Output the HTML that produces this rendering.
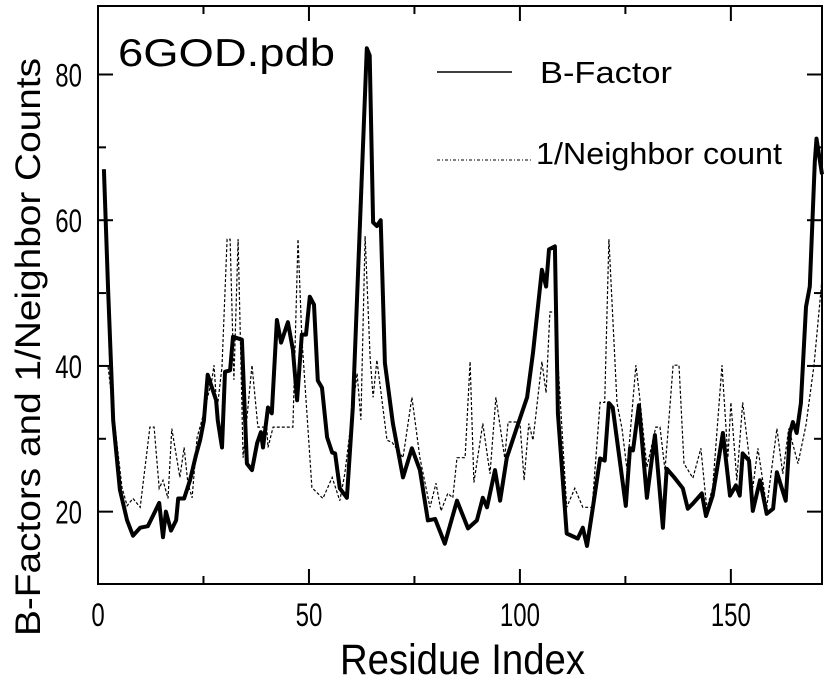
<!DOCTYPE html>
<html><head><meta charset="utf-8"><style>
body{margin:0;background:#fff;}
svg{display:block;font-family:"Liberation Sans",Arial,sans-serif;}
</style></head><body>
<svg id="chart" width="825" height="682" viewBox="0 0 825 682">
<g id="axes"></g>
<g id="series"></g>
<text x="118" y="66" font-size="39" textLength="217" lengthAdjust="spacingAndGlyphs">6GOD.pdb</text>
<line x1="437" y1="72" x2="512" y2="72" stroke="#000" stroke-width="1.5"/>
<text x="540" y="83" font-size="31" textLength="132" lengthAdjust="spacingAndGlyphs">B-Factor</text>
<line x1="437" y1="160" x2="531" y2="160" stroke="#000" stroke-width="1" stroke-dasharray="3,2,1,2"/>
<text x="536" y="164" font-size="31" textLength="246" lengthAdjust="spacingAndGlyphs">1/Neighbor count</text>
<text x="340" y="674" font-size="43" textLength="245" lengthAdjust="spacingAndGlyphs">Residue Index</text>
<text transform="translate(40,636) rotate(-90)" font-size="35" textLength="578" lengthAdjust="spacingAndGlyphs">B-Factors and 1/Neighbor Counts</text>
</svg>
<script>
const bX=[1.4,2.4,3.6,5.2,6.9,8.3,10,11.8,13.5,14.5,15.4,16.1,17.3,18.5,19,20.4,21.8,23.2,24.2,25.1,26,28,28.4,29.4,30.1,31.3,32,34.1,35.3,36.5,37.7,38.6,39.1,40.3,41.2,42.4,43.4,45,46.2,47.2,48.3,49.3,50.2,51.2,52.1,53.1,54.3,55.5,56.2,57.3,59,60.4,63.7,64.4,65.2,66.1,67,68,69.9,72.3,74.4,76.3,78.2,79.9,82.2,85.1,87.7,89.8,91.2,92.2,94.1,95.3,96.9,99.3,101.7,103.1,105.2,106.2,106.9,108.3,109,111.1,113.7,114.9,115.9,117.3,119,120.1,121.1,122,125.1,126.1,126.8,128.2,130.1,132,133.9,134.8,136.7,138.6,139.8,141,143.1,144.1,145.7,148.1,149.8,151.2,152.1,152.8,154.3,155.2,156.9,158.5,160,160.9,163,164,164.7,165.6,166.6,167.8,168.7,169.9,170.3,171.6];
const bY=[67,50.5,32.5,23,18.8,16.7,17.8,18,20,21.2,16.5,20,17.4,18.8,21.8,21.8,24.3,27.7,29.8,32.5,38.8,35.3,32.5,28.8,39.2,39.4,44,43.6,26.6,25.7,29.4,30.9,28.8,34.3,33.5,46.3,43.2,46,42.2,35.3,44.3,44.3,49.5,48.4,38,37,30.2,28.1,28,23.2,21.9,34.3,83.6,82.6,59.7,59.2,60,40.4,32.1,24.7,28.7,25.7,18.8,19,15.6,21.5,17.7,18.8,21.9,20.6,25.7,21.5,27.4,31.6,35.7,41.8,53.2,50.9,56,56.4,33.5,17,16.3,17.8,15.3,20.6,27.3,27,34.9,34.3,20.8,28.7,28.4,34.6,21.9,30.5,17.8,25.9,24.6,23.2,20.4,21.1,22.5,19.4,22.2,30.8,22.2,23.6,22.2,28,27,20.1,24.3,19.7,20.4,25.4,21.5,30.8,32.3,30.8,34.9,48.1,50.9,68,71.2,66.3];
const nX=[2.4,5.7,6.9,8.3,10,12.3,13.3,14.5,15.4,16.6,17.5,19.4,20.4,21.3,22.3,23.5,24.6,27,27.5,28.2,29.4,30.6,31.3,32.2,33.2,34.4,36.5,37.9,40,40.3,41.5,46.2,47.4,48.3,50.7,53.3,55.5,57.3,58.5,61.4,62.3,63.3,64.5,65.2,66.1,68.5,69.7,72.3,74.4,76.3,78.7,80.1,81.3,82.9,84.1,85.1,87,88.2,89.1,91.2,92.9,94.3,96.4,97.2,100,101,102.1,103.1,105.2,106.2,107.1,108.3,111.1,113,114.9,117.1,119,120.1,121.1,123,124.2,125.4,127.5,128.4,130.1,132.2,133.2,134.4,136.3,137.7,138.9,141,142.9,144.3,145.7,147.9,149.3,150,151.4,152.8,155.2,156.4,158.5,160.9,162.3,163.7,165.9,167.8,169.7,171.6];
const nY=[39.9,23.3,20.8,21.8,20.6,31.6,31.6,23.2,24.3,21.8,31.4,24.7,28.8,23.9,21.9,30.2,32.5,38.1,40.1,33.9,39.9,57.4,57.4,38.1,57.4,27.4,40.1,31.6,31.6,28.8,31.6,31.6,57.4,44,23.3,21.8,24.7,21.5,25.2,39,32.6,57.8,41.2,35.7,40.8,29.8,29.5,27.4,35.7,27.4,20.6,23.9,20.1,22.5,21.9,27.4,27.4,40.6,24,32.1,25.2,35.7,27.4,32.3,32.3,24.3,32.1,29.8,40.6,36.3,47.4,47.4,20.6,23.2,20.6,20.6,35,35,57.4,34.9,31.4,25.7,40.1,35.7,26.1,31.6,31.6,25.7,40.1,40.1,26.6,24.6,28.7,20.4,23.3,40.1,27.4,35,24.3,35,23.3,28.7,20.6,31.4,25.2,31.4,26.6,31.9,40.1,51.9];
const xTicks=[0,50,100,150];
const yTicks=[20,40,60,80];
const L=98,R=822,T=6,B=584,X0=0,X1=171.6,Y0=10.07,Y1=89.4;
const sx=v=>L+(v-X0)/(X1-X0)*(R-L);
const sy=v=>B-(v-Y0)/(Y1-Y0)*(B-T);
const NS='http://www.w3.org/2000/svg';
const ax=document.getElementById('axes'),se=document.getElementById('series');
function mk(tag,attrs,parent){const e=document.createElementNS(NS,tag);for(const k in attrs)e.setAttribute(k,attrs[k]);parent.appendChild(e);return e;}
const frame=mk('rect',{x:L,y:T,width:R-L,height:B-T,fill:'none',stroke:'#000','stroke-width':2},ax);


for(let v=0;v<=175;v+=25){const x=sx(v);if(x>R)break;const len=v%50===0?15:8;
 const t=mk('line',{x1:x,y1:B,x2:x,y2:B-len,stroke:'#000','stroke-width':2},ax);
 
 
 const t2=mk('line',{x1:x,y1:T,x2:x,y2:T+len,stroke:'#000','stroke-width':2},ax);
 
 }
for(let v=20;v<=80;v+=10){const y=sy(v);const len=v%20===0?15:8;
 const t=mk('line',{x1:L,y1:y,x2:L+len,y2:y,stroke:'#000','stroke-width':2},ax);
 
 
 const t2=mk('line',{x1:R,y1:y,x2:R-len,y2:y,stroke:'#000','stroke-width':2},ax);
 
 }
xTicks.forEach(v=>{const t=mk('text',{x:sx(v),y:626,'font-size':32,'text-anchor':'middle',transform:'translate('+sx(v)+',0) scale(0.75,1) translate('+(-sx(v))+',0)'},ax);t.textContent=v;
 
 });
yTicks.forEach(v=>{const t=mk('text',{x:82,y:sy(v)+12,'font-size':32,'text-anchor':'end',transform:'translate(82,0) scale(0.75,1) translate(-82,0)'},ax);t.textContent=v;
 
 });
const pts=(xs,ys)=>xs.map((x,i)=>sx(x).toFixed(1)+','+sy(ys[i]).toFixed(1)).join(' ');
const nl=mk('polyline',{points:pts(nX,nY),fill:'none',stroke:'#000','stroke-width':1.2,'stroke-dasharray':'3,2'},se);


const bl=mk('polyline',{points:pts(bX,bY),fill:'none',stroke:'#000','stroke-width':4,'stroke-linejoin':'round'},se);


</script>
</body></html>
